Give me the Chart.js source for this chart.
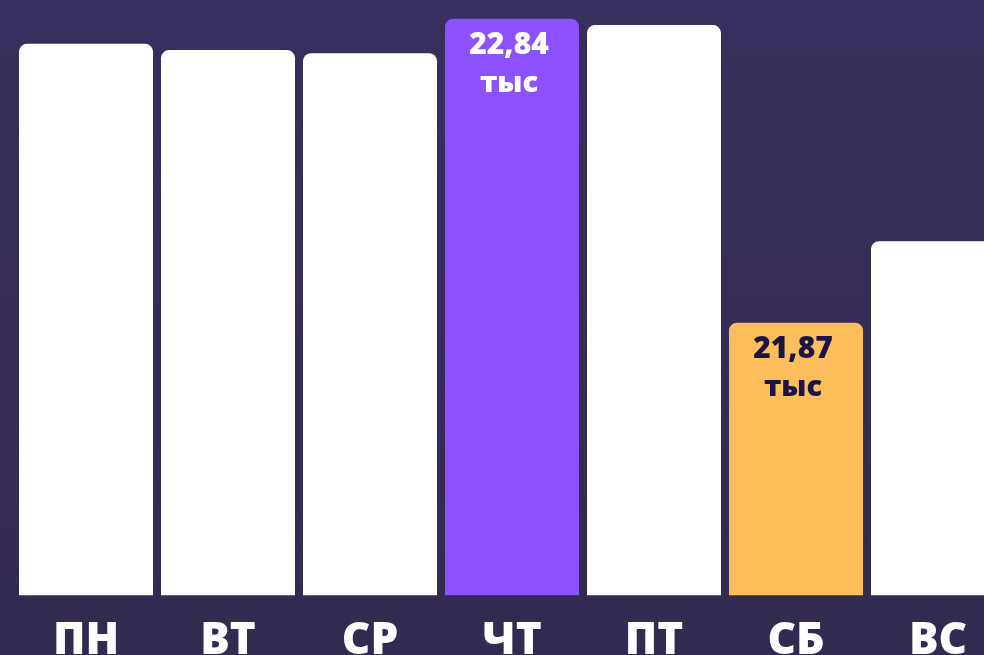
<!DOCTYPE html>
<html>
<head>
<meta charset="utf-8">
<script src="https://cdn.jsdelivr.net/npm/chart.js@4/dist/chart.umd.min.js"></script>
<style>
  html, body { margin: 0; padding: 0; overflow: hidden; }
  body { width: 984px; height: 655px; background: linear-gradient(#392f5e, #332a50); }
  #wrap { position: absolute; left: 0; top: 0; width: 1010px; height: 700px; }
</style>
</head>
<body>
<div id="wrap"><canvas id="chart"></canvas></div>
<script>
const days = ['ПН', 'ВТ', 'СР', 'ЧТ', 'ПТ', 'СБ', 'ВС'];
const visits = [22.76, 22.74, 22.73, 22.84, 22.82, 21.87, 22.13];
const barColors = ['#ffffff', '#ffffff', '#ffffff', '#8c52ff', '#ffffff', '#ffbe5c', '#ffffff'];
const labelColors = [null, null, null, '#ffffff', null, '#1b1446', null];
const unit = 'тыс';

const fontFamily = '"Open Sans", "Noto Sans", sans-serif';

// writes value + unit inside the highlighted bars
const barLabels = {
    id: 'barLabels',
    afterDatasetsDraw(chart) {
        const ctx = chart.ctx;
        const meta = chart.getDatasetMeta(0);
        ctx.save();
        ctx.textAlign = 'center';
        ctx.textBaseline = 'middle';
        meta.data.forEach((bar, i) => {
            if (!labelColors[i]) return;
            ctx.fillStyle = labelColors[i];
            ctx.font = '800 30px ' + fontFamily;
            ctx.fillText(visits[i].toFixed(2).replace('.', ','), bar.x - 3, bar.y + 27);
            ctx.font = '800 29px ' + fontFamily;
            ctx.fillText(unit, bar.x - 3, bar.y + 65);
        });
        ctx.restore();
    }
};

const config = {
    type: 'bar',
    data: {
        labels: days,
        datasets: [{
            data: visits,
            backgroundColor: barColors,
            borderRadius: { topLeft: 8, topRight: 8 },
            borderSkipped: 'bottom',
            barPercentage: 0.944,
            categoryPercentage: 1
        }]
    },
    options: {
        responsive: true,
        maintainAspectRatio: false,
        animation: false,
        layout: { padding: { left: 15, right: 1, top: 0, bottom: 12 } },
        plugins: { legend: { display: false }, tooltip: { enabled: false } },
        scales: {
            x: {
                grid: { display: false, drawTicks: false },
                border: { display: false },
                ticks: {
                    color: '#ffffff',
                    padding: 20,
                    font: { family: fontFamily, size: 44, weight: '800', lineHeight: 1.2 }
                }
            },
            y: {
                display: false,
                min: 21,
                max: 22.9
            }
        }
    },
    plugins: [barLabels]
};

new Chart(document.getElementById('chart').getContext('2d'), config);
</script>
</body>
</html>
